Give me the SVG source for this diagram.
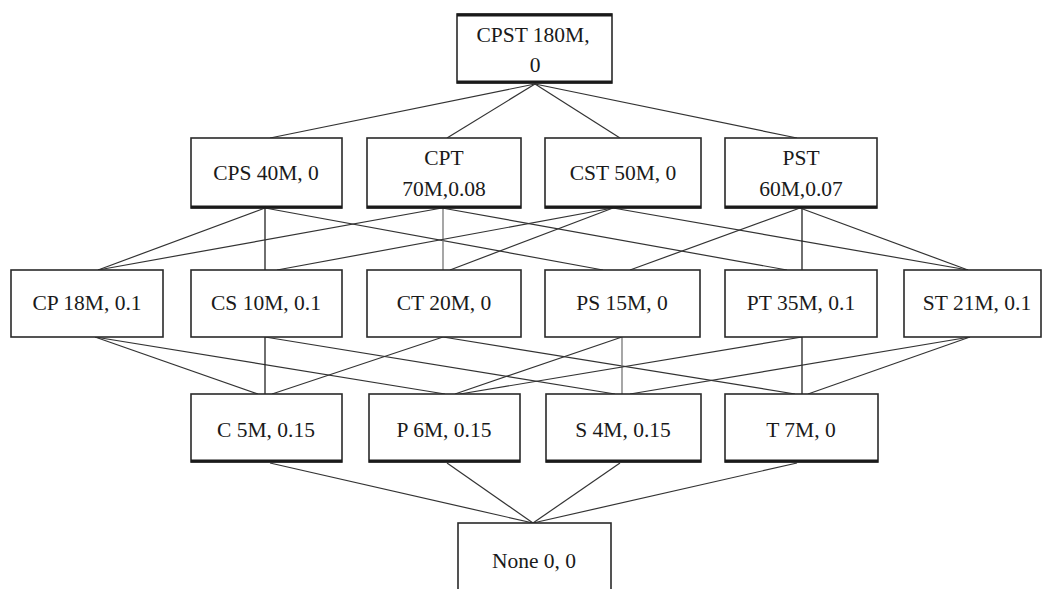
<svg xmlns="http://www.w3.org/2000/svg" width="1047" height="589" viewBox="0 0 1047 589">
  <style>
    .box { fill: #ffffff; stroke: #2a2a2a; stroke-width: 1.6; }
    .base { stroke: #1a1a1a; stroke-width: 3; }
    .lbl { font-family: "Liberation Serif", "Times New Roman", serif; font-size: 21.5px; fill: #1a1a1a; text-anchor: middle; }
    .edge { stroke: #333333; stroke-width: 1.2; fill: none; }
    .vert { stroke: #222222; stroke-width: 1.3; }
  </style>
  <rect width="1047" height="589" fill="#ffffff"/>

  <!-- lattice connectors -->
  <g id="connectors">
    <!-- top to level 3 -->
    <line class="edge" x1="535" y1="84" x2="270" y2="138"/>
    <line class="edge" x1="535" y1="84" x2="447" y2="138"/>
    <line class="edge" x1="535" y1="84" x2="620" y2="138"/>
    <line class="edge" x1="535" y1="84" x2="797" y2="138"/>
    <!-- level 3 to level 2 -->
    <line class="edge" x1="265" y1="208" x2="98" y2="270"/>
    <line class="vert" x1="265" y1="208" x2="265" y2="270"/>
    <line class="edge" x1="265" y1="208" x2="603" y2="270"/>
    <line class="edge" x1="442" y1="208" x2="98" y2="270"/>
    <line class="vert" x1="443" y1="208" x2="443" y2="270" style="stroke:#777"/>
    <line class="edge" x1="442" y1="208" x2="787" y2="270"/>
    <line class="edge" x1="613" y1="208" x2="277" y2="270"/>
    <line class="edge" x1="613" y1="208" x2="450" y2="270"/>
    <line class="edge" x1="613" y1="208" x2="968" y2="270"/>
    <line class="edge" x1="800" y1="208" x2="630" y2="270"/>
    <line class="vert" x1="802" y1="208" x2="802" y2="270"/>
    <line class="edge" x1="800" y1="208" x2="968" y2="270"/>
    <!-- level 2 to level 1 -->
    <line class="edge" x1="95" y1="337" x2="258" y2="394"/>
    <line class="edge" x1="95" y1="337" x2="445" y2="394"/>
    <line class="vert" x1="265" y1="337" x2="265" y2="394"/>
    <line class="edge" x1="265" y1="337" x2="615" y2="394"/>
    <line class="edge" x1="443" y1="337" x2="272" y2="394"/>
    <line class="edge" x1="443" y1="337" x2="795" y2="394"/>
    <line class="edge" x1="622" y1="337" x2="455" y2="394"/>
    <line class="vert" x1="622" y1="337" x2="622" y2="394" style="stroke:#777"/>
    <line class="edge" x1="802" y1="337" x2="460" y2="394"/>
    <line class="vert" x1="802" y1="337" x2="802" y2="394"/>
    <line class="edge" x1="970" y1="337" x2="630" y2="394"/>
    <line class="edge" x1="970" y1="337" x2="808" y2="394"/>
    <!-- level 1 to bottom -->
    <line class="edge" x1="270" y1="463" x2="533" y2="523"/>
    <line class="edge" x1="447" y1="463" x2="533" y2="523"/>
    <line class="edge" x1="620" y1="463" x2="533" y2="523"/>
    <line class="edge" x1="797" y1="463" x2="533" y2="523"/>
  </g>

  <!-- top node -->
  <g id="n-cpst">
    <rect class="box" x="457" y="14" width="155" height="69"/>
    <line class="base" x1="457" y1="15" x2="612" y2="15"/>
    <line class="base" x1="457" y1="82" x2="612" y2="82"/>
    <text class="lbl" x="533" y="42">CPST 180M,</text>
    <text class="lbl" x="535" y="72">0</text>
  </g>

  <!-- three-attribute nodes -->
  <g id="n-cps">
    <rect class="box" x="191" y="138" width="151" height="70"/>
    <line class="base" x1="191" y1="207" x2="342" y2="207"/>
    <text class="lbl" x="266" y="180">CPS 40M, 0</text>
  </g>
  <g id="n-cpt">
    <rect class="box" x="367" y="138" width="154" height="70"/>
    <line class="base" x1="367" y1="207" x2="521" y2="207"/>
    <text class="lbl" x="444" y="165">CPT</text>
    <text class="lbl" x="444" y="196">70M,0.08</text>
  </g>
  <g id="n-cst">
    <rect class="box" x="545" y="138" width="156" height="70"/>
    <line class="base" x1="545" y1="207" x2="701" y2="207"/>
    <text class="lbl" x="623" y="180">CST 50M, 0</text>
  </g>
  <g id="n-pst">
    <rect class="box" x="725" y="138" width="152" height="70"/>
    <line class="base" x1="725" y1="207" x2="877" y2="207"/>
    <text class="lbl" x="801" y="165">PST</text>
    <text class="lbl" x="801" y="196">60M,0.07</text>
  </g>

  <!-- two-attribute nodes -->
  <g id="n-cp">
    <rect class="box" x="11" y="270" width="152" height="67"/>
    <text class="lbl" x="87" y="310">CP 18M, 0.1</text>
  </g>
  <g id="n-cs">
    <rect class="box" x="191" y="270" width="151" height="67"/>
    <text class="lbl" x="266" y="310">CS 10M, 0.1</text>
  </g>
  <g id="n-ct">
    <rect class="box" x="367" y="270" width="154" height="67"/>
    <text class="lbl" x="444" y="310">CT 20M, 0</text>
  </g>
  <g id="n-ps">
    <rect class="box" x="545" y="270" width="155" height="67"/>
    <text class="lbl" x="622" y="310">PS 15M, 0</text>
  </g>
  <g id="n-pt">
    <rect class="box" x="725" y="270" width="152" height="67"/>
    <text class="lbl" x="801" y="310">PT 35M, 0.1</text>
  </g>
  <g id="n-st">
    <rect class="box" x="904" y="270" width="137" height="67"/>
    <text class="lbl" x="977" y="310">ST 21M, 0.1</text>
  </g>

  <!-- single-attribute nodes -->
  <g id="n-c">
    <rect class="box" x="191" y="394" width="151" height="68"/>
    <line class="base" x1="191" y1="461" x2="342" y2="461"/>
    <text class="lbl" x="266" y="437">C 5M, 0.15</text>
  </g>
  <g id="n-p">
    <rect class="box" x="369" y="394" width="151" height="68"/>
    <line class="base" x1="369" y1="461" x2="520" y2="461"/>
    <text class="lbl" x="444" y="437">P 6M, 0.15</text>
  </g>
  <g id="n-s">
    <rect class="box" x="546" y="394" width="155" height="68"/>
    <line class="base" x1="546" y1="461" x2="701" y2="461"/>
    <text class="lbl" x="623" y="437">S 4M, 0.15</text>
  </g>
  <g id="n-t">
    <rect class="box" x="725" y="394" width="153" height="68"/>
    <line class="base" x1="725" y1="461" x2="878" y2="461"/>
    <text class="lbl" x="801" y="437">T 7M, 0</text>
  </g>

  <!-- bottom node -->
  <g id="n-none">
    <rect class="box" x="458" y="523" width="153" height="80"/>
    <text class="lbl" x="534" y="568">None 0, 0</text>
  </g>
</svg>
